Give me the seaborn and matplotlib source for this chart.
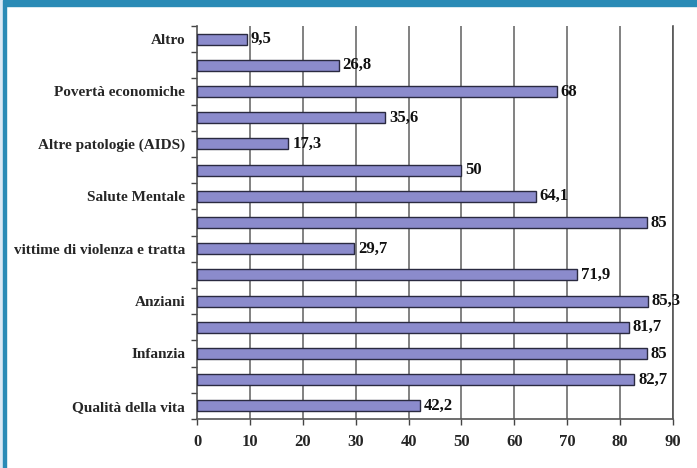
import matplotlib
matplotlib.use("Agg")
import matplotlib.pyplot as plt
import seaborn as sns
import pandas as pd
from matplotlib.patches import Rectangle

# Data (top to bottom)
labels = ["Altro", "", "Povertà economiche", "", "Altre patologie (AIDS)", "",
          "Salute Mentale", "", "vittime di violenza e tratta", "", "Anziani", "",
          "Infanzia", "", "Qualità della vita"]
values = [9.5, 26.8, 68, 35.6, 17.3, 50, 64.1, 85, 29.7, 71.9, 85.3, 81.7, 85, 82.7, 42.2]
x_ticks = [0, 10, 20, 30, 40, 50, 60, 70, 80, 90]

keys = ["k%02d" % i for i in range(len(values))]
df = pd.DataFrame({"key": keys, "value": values})

sns.set_theme(style="white")
plt.rcParams["font.family"] = ["Liberation Serif", "DejaVu Serif"]
plt.rcParams["font.weight"] = "bold"

fig = plt.figure(figsize=(6.97, 4.68), dpi=100)
fig.patch.set_facecolor("white")
ax = fig.add_axes([197/697, 1-419/468, (673-197)/697, (419-26)/468])

# frame decorations
fig.patches.append(Rectangle((0, 1-6/468), 1, 6/468, transform=fig.transFigure,
                             color="#2a8bb6", zorder=0))
fig.patches.append(Rectangle((0, 0), 3/697, 1, transform=fig.transFigure,
                             color="#dbe9f5", zorder=0))
fig.patches.append(Rectangle((3/697, 0), 3/697, 1, transform=fig.transFigure,
                             color="#2a8bb6", zorder=0))

sns.barplot(data=df, x="value", y="key", order=keys, orient="h", ax=ax,
            color="#8b8bcc", edgecolor="#2a2a40", linewidth=1.0, width=0.42,
            saturation=1, zorder=3)

ax.set_xlim(0, 90)
ax.set_ylim(len(values)-0.5, -0.5)
ax.set_xticks(x_ticks)
ax.set_xticklabels([str(t) for t in x_ticks], fontsize=12, fontweight="bold")
ax.set_yticks(range(len(values)))
ax.set_yticklabels(labels, fontsize=11, fontweight="bold")
ax.tick_params(axis="y", length=0, pad=8.6)
ax.set_yticks([i + 0.5 for i in range(-1, len(values))], minor=True)
ax.tick_params(axis="y", which="minor", length=4, width=1, color="#444444", left=True)
ax.tick_params(axis="x", length=4, width=1, color="#444444", bottom=True, pad=7)
ax.set_xlabel("")
ax.set_ylabel("")

ax.grid(False)
for t in x_ticks[1:]:
    ax.axvline(t, color="#777777", linewidth=1.3, zorder=1)

ax.spines["top"].set_visible(False)
for s in ["left", "bottom", "right"]:
    ax.spines[s].set_color("#555555")
    ax.spines[s].set_linewidth(1.2)

for i, v in enumerate(values):
    txt = ("%g" % v).replace(".", ",")
    ax.text(v + 0.7, i, txt, va="center", ha="left", fontsize=12,
            fontweight="bold", color="#111111", zorder=4)

fig.savefig("out.png", dpi=100, facecolor="white")
